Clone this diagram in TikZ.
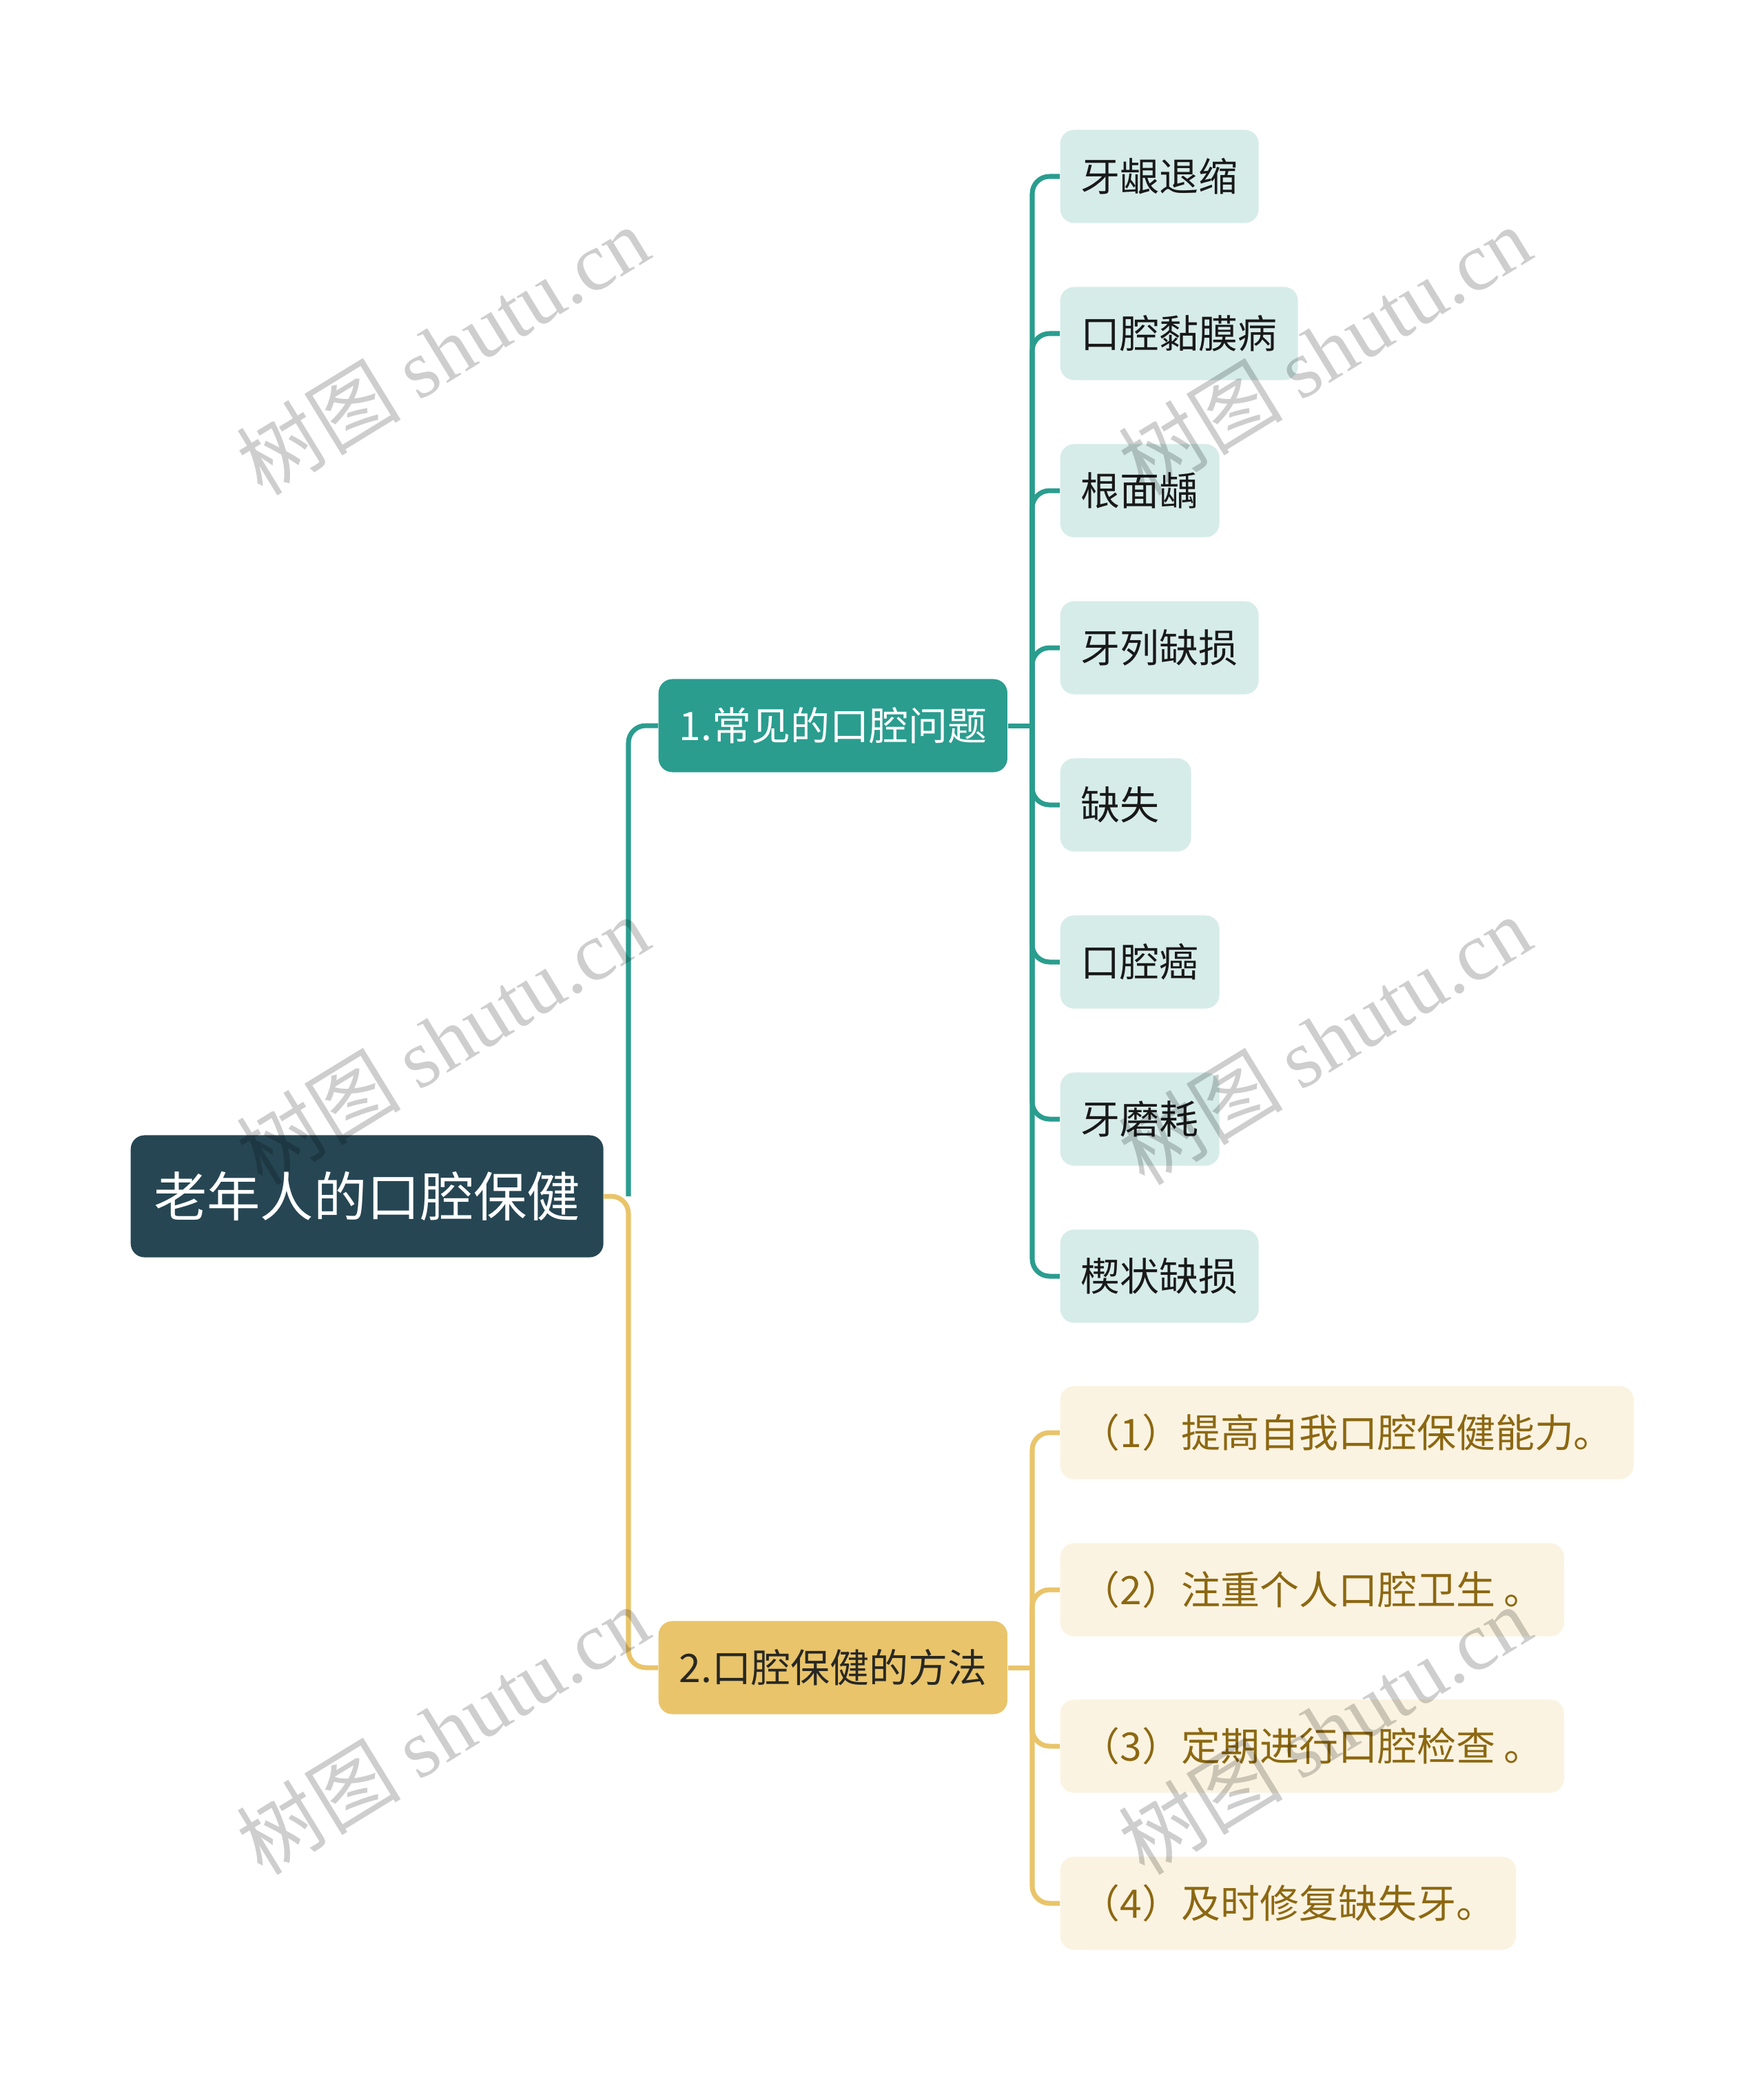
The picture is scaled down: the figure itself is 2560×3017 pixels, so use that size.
\documentclass[tikz,border=0pt]{standalone}
\usepackage{fontspec}
\setmainfont{Noto Sans CJK SC}
\newfontfamily\wmlatin{Liberation Serif}
\definecolor{rootc}{RGB}{38,70,83}
\definecolor{tealc}{RGB}{42,157,143}
\definecolor{goldc}{RGB}{233,196,106}
\definecolor{tealleafc}{RGB}{214,236,233}
\definecolor{goldleafc}{RGB}{251,243,225}
\definecolor{goldtext}{RGB}{140,104,18}
\definecolor{darktext}{RGB}{40,40,36}
\definecolor{wmc}{RGB}{206,206,206}
\tikzset{
  x=0.01cm, y=-0.01cm,
  basebox/.style={anchor=west, rounded corners=0.2cm, inner xsep=0.30cm, inner ysep=0pt, minimum height=1.35cm,
    font=\fontsize{16.2pt}{19pt}\selectfont},
  rootbox/.style={anchor=west, rounded corners=0.2cm, fill=rootc, text=white, inner xsep=0.335cm, inner ysep=0pt,
    minimum height=1.77cm, font=\fontsize{22pt}{26pt}\selectfont},
  tealbranch/.style={basebox, fill=tealc, text=white},
  goldbranch/.style={basebox, fill=goldc, text=darktext},
  tealleaf/.style={basebox, fill=tealleafc, text=black!90},
  goldleaf/.style={basebox, fill=goldleafc, text=goldtext},
  tealline/.style={draw=tealc, line width=2pt, rounded corners=0.25cm},
  goldline/.style={draw=goldc, line width=2pt, rounded corners=0.25cm},
  watermark/.style={rotate=31.5, text=wmc, font=\fontsize{34pt}{40pt}\selectfont}
}
\begin{document}
\begin{tikzpicture}
\useasboundingbox (0,0) rectangle (2560,3017);
\fill[white] (0,0) rectangle (2560,3017);

% nodes
\node[rootbox] (root) at (189,1736) {老年人的口腔保健};
\node[tealbranch] (b1) at (955,1053) {1.常见的口腔问题};
\node[goldbranch] (b2) at (955,2420) {2.口腔保健的方法};

\node[tealleaf] (t1) at (1538,256) {牙龈退缩};
\node[tealleaf] (t2) at (1538,484) {口腔黏膜病};
\node[tealleaf] (t3) at (1538,712) {根面龋};
\node[tealleaf] (t4) at (1538,940) {牙列缺损};
\node[tealleaf] (t5) at (1538,1168) {缺失\kern0.16cm};
\node[tealleaf] (t6) at (1538,1396) {口腔癌};
\node[tealleaf] (t7) at (1538,1624) {牙磨耗};
\node[tealleaf] (t8) at (1538,1852) {楔状缺损};

\node[goldleaf] (g1) at (1538,2079) {（1）提高自我口腔保健能力。};
\node[goldleaf] (g2) at (1538,2307) {（2）注重个人口腔卫生 。};
\node[goldleaf] (g3) at (1538,2534) {（3）定期进行口腔检查 。};
\node[goldleaf] (g4) at (1538,2762) {（4）及时修复缺失牙。};

% connectors
\coordinate (rt) at (912,1736);
\coordinate (tt) at (1498,1053);
\coordinate (gt) at (1498,2420);

\draw[goldline] (root.east) -- (rt) |- (b2.west);
\draw[tealline] (rt) |- (b1.west);

\draw[tealline] (b1.east) -- (tt);
\foreach \n in {t1,t2,t3,t4,t5,t6,t7,t8}
  \draw[tealline] (tt) |- (\n.west);

\draw[goldline] (b2.east) -- (gt);
\foreach \n in {g1,g2,g3,g4}
  \draw[goldline] (gt) |- (\n.west);

% watermarks (multiplied over the drawing)
\begin{scope}[blend mode=multiply]
\foreach \wx/\wy [count=\i] in {642/508, 642/1509, 642/2510, 1922/508, 1922/1509, 1922/2510}
  \node[watermark] (wm\i) at (\wx,\wy) {树图 {\wmlatin shutu.cn}};
\end{scope}
\end{tikzpicture}
\end{document}
